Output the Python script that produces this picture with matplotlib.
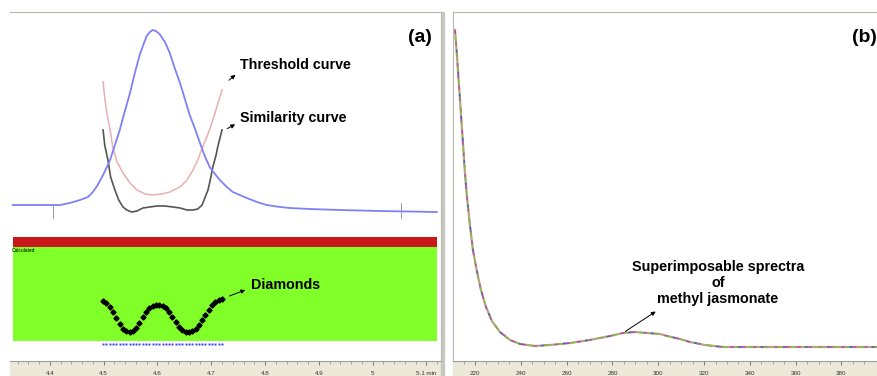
import numpy as np
import matplotlib
matplotlib.use("Agg")
import matplotlib.pyplot as plt
from matplotlib.patches import Rectangle

plt.rcParams['font.family'] = ['Liberation Sans', 'DejaVu Sans']

# ---- panel (a): chromatogram, threshold and similarity curves
chrom_t = [4.331, 4.381, 4.419, 4.437, 4.456, 4.471, 4.480, 4.489, 4.499, 4.506,
           4.512, 4.521, 4.530, 4.539, 4.549, 4.558, 4.567, 4.575, 4.580, 4.586,
           4.591, 4.597, 4.604, 4.614, 4.623, 4.632, 4.642, 4.651, 4.660, 4.670,
           4.679, 4.688, 4.697, 4.707, 4.716, 4.729, 4.740, 4.753, 4.766, 4.785,
           4.803, 4.828, 4.846, 4.883, 4.939, 5.013, 5.119]
chrom_y = [150, 150, 150, 152, 155, 158, 163, 170, 180, 188,
           195, 210, 225, 243, 262, 282, 300, 312, 319, 323,
           325, 324, 321, 313, 302, 287, 272, 256, 240, 226,
           212, 199, 188, 181, 175, 168, 163, 160, 157, 153,
           150, 148, 147, 146, 145, 144, 143]

thr_t = [4.499, 4.502, 4.506, 4.512, 4.517, 4.525, 4.536, 4.549, 4.562, 4.577, 4.591,
         4.608, 4.623, 4.642, 4.655, 4.666, 4.675, 4.684, 4.694, 4.703, 4.712, 4.720]
thr_y = [273, 257, 242, 225, 208, 193, 182, 172, 165, 161, 160,
         161, 163, 168, 175, 185, 195, 208, 221, 235, 251, 265]

sim_t = [4.499, 4.502, 4.508, 4.513, 4.521, 4.528, 4.536, 4.543, 4.552, 4.562,
         4.573, 4.586, 4.599, 4.614, 4.629, 4.642, 4.655, 4.666, 4.675, 4.683,
         4.688, 4.694, 4.699, 4.703, 4.709, 4.712, 4.720]
sim_y = [225, 210, 195, 178, 165, 155, 148, 145, 143, 144,
         147, 148, 149, 149, 148, 147, 145, 145, 146, 150,
         157, 165, 177, 188, 200, 208, 225]

diamond_y = [54, 52, 48, 43, 37, 31, 26, 24, 23, 24, 27, 32, 38, 43, 47, 49, 50,
             50, 49, 47, 43, 38, 33, 28, 25, 23, 23, 24, 26, 30, 35, 40, 45, 50,
             53, 55, 56]
diamond_t = np.linspace(4.499, 4.720, len(diamond_y))

# ---- panel (b): UV spectra (superimposed)
wl = [211.3, 212.1, 213.0, 213.9, 214.8, 215.6, 216.5, 217.8, 219.1, 220.9,
      222.6, 224.8, 227.4, 230.9, 235.3, 239.7, 246.2, 252.8, 261.5, 270.2,
      279.0, 284.6, 289.9, 295.1, 300.8, 303.8, 309.5, 313.9, 320.4, 328.3,
      340.1, 353.2, 375.0, 395.6]
absb = [325, 300, 270, 240, 210, 183, 158, 130, 105, 83,
        65, 48, 34, 23, 15, 11, 9, 10, 12, 15,
        19, 22, 23, 22, 21, 19, 16, 13, 10, 8,
        8, 8, 8, 8]

W, H = 877, 376


def box(x0, y0, x1, y1):
    return [x0 / W, 1 - y1 / H, (x1 - x0) / W, (y1 - y0) / H]


fig = plt.figure(figsize=(W / 100, H / 100), dpi=100)
fig.patch.set_facecolor('white')

# beige axis strips
for x0, x1 in [(10, 441), (453, 877)]:
    fig.add_artist(Rectangle((x0 / W, 0), (x1 - x0) / W, 15 / H,
                             transform=fig.transFigure, color='#ECE9D8', zorder=0))
fig.add_artist(Rectangle((441 / W, 0), 3 / W, 364 / H, transform=fig.transFigure,
                         color='#C8C8C0', zorder=0))

ax1 = fig.add_axes(box(10, 12, 441, 361))
ax2 = fig.add_axes(box(453, 12, 877, 361))

for ax in (ax1, ax2):
    ax.set_facecolor('white')
    ax.set_yticks([])
    ax.set_ylim(-6, 343)
    ax.tick_params(axis='x', which='major', direction='out', length=3, width=0.6,
                   colors='#666666', labelsize=4.5, pad=4, labelcolor='#333333')
    ax.tick_params(axis='x', which='minor', direction='out', length=2, width=0.5,
                   colors='#888888')
    for s in ax.spines.values():
        s.set_color('#B8B8B0')
        s.set_linewidth(0.8)
    ax.spines['bottom'].set_color('#A0A0A0')

ax1.spines['left'].set_visible(False)
ax2.spines['right'].set_visible(False)

# ---- left panel
ax1.set_xlim(4.326, 5.127)
ax1.set_xticks([4.4, 4.5, 4.6, 4.7, 4.8, 4.9, 5.0, 5.1])
ax1.set_xticklabels(['4.4', '4.5', '4.6', '4.7', '4.8', '4.9', '5', '5.1 min'])
ax1.set_xticks(np.arange(4.34, 5.12, 0.02), minor=True)

ax1.plot(chrom_t, chrom_y, color='#8080F6', lw=1.3, zorder=3)
ax1.plot(thr_t, thr_y, color='#E8B0B0', lw=1.1, zorder=2)
ax1.plot(sim_t, sim_y, color='#555555', lw=1.2, zorder=2)
ax1.plot([4.406, 4.406], [137, 150], color='#888888', lw=0.6)
ax1.plot([5.052, 5.052], [137, 152], color='#888888', lw=0.6)

ax1.add_patch(Rectangle((4.331, 108), 5.119 - 4.331, 10, color='#C8181A', lw=0))
ax1.add_patch(Rectangle((4.331, 14), 5.119 - 4.331, 94, color='#80FF28', lw=0))
ax1.text(4.329, 104, 'Calculated', fontsize=3.5, va='center', ha='left')
ax1.plot(diamond_t, diamond_y, ls='none', marker='D', ms=2.6, color='black', zorder=4)
ax1.plot(diamond_t, [11] * len(diamond_t), ls='none', marker='s', ms=1.4,
         mew=0, color='#4040E8', zorder=4)

arrow = dict(arrowstyle='-|>', color='black', lw=0.7, mutation_scale=6)
ax1.annotate('', xy=(4.749, 282), xytext=(4.729, 273), arrowprops=arrow)
ax1.text(4.754, 290, 'Threshold curve', fontsize=10.3, fontweight='bold',
         ha='left', va='center')
ax1.annotate('', xy=(4.749, 232), xytext=(4.725, 225), arrowprops=arrow)
ax1.text(4.754, 237, 'Similarity curve', fontsize=10.3, fontweight='bold',
         ha='left', va='center')
ax1.annotate('', xy=(4.768, 66), xytext=(4.729, 58), arrowprops=arrow)
ax1.text(4.774, 70, 'Diamonds', fontsize=10.3, fontweight='bold',
         ha='left', va='center')
ax1.text(5.088, 318, '(a)', fontsize=14, fontweight='bold', ha='center', va='center')

# ---- right panel
ax2.set_xlim(210.4, 395.5)
ax2.set_xticks([220, 240, 260, 280, 300, 320, 340, 360, 380])
ax2.set_xticks(np.arange(215, 395, 5), minor=True)

ax2.plot(wl, absb, color='#B0A878', lw=1.6, zorder=2)
ax2.plot(wl, absb, color='#C040B8', lw=1.0, ls=(0, (3, 5)), zorder=3)
ax2.plot(wl, absb, color='#80C040', lw=1.0, ls=(4, (3, 7)), zorder=3)
ax2.plot(wl, absb, color='#4850D0', lw=1.0, ls=(2, (2, 14)), zorder=3)

ax2.annotate('', xy=(299.9, 45), xytext=(284.6, 22), arrowprops=arrow)
ax2.text(326.1, 72, 'Superimposable sprectra\nof\nmethyl jasmonate', fontsize=10.4,
         fontweight='bold', ha='center', va='center', linespacing=1.15)
ax2.text(384.5, 318, '(b)', fontsize=14, fontweight='bold', ha='left',
         va='center')

fig.savefig('out.png', dpi=100)
